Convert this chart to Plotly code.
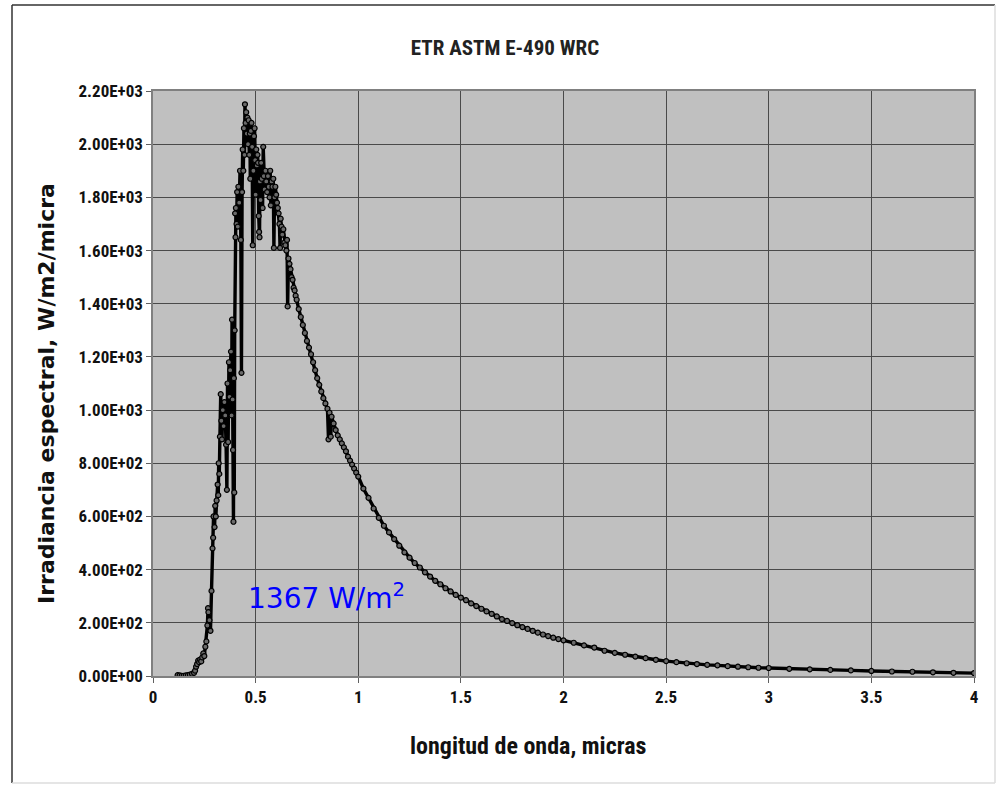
import plotly.graph_objects as go

# Wavelength (micras) and spectral irradiance (W/m2/micra)
wavelength = [
    0.120, 0.130, 0.140, 0.150, 0.160, 0.170, 0.180, 0.190, 0.200, 0.205,
    0.210, 0.215, 0.220, 0.225, 0.230, 0.235, 0.240, 0.245, 0.250, 0.255,
    0.260, 0.265, 0.268, 0.270, 0.275, 0.280, 0.285, 0.290, 0.293, 0.295,
    0.300, 0.303, 0.306, 0.310, 0.315, 0.318, 0.320, 0.323, 0.326, 0.330,
    0.333, 0.336, 0.340, 0.344, 0.348, 0.352, 0.356, 0.360, 0.363, 0.366,
    0.370, 0.373, 0.376, 0.380, 0.383, 0.385, 0.388, 0.390, 0.392, 0.394,
    0.396, 0.398, 0.400, 0.402, 0.404, 0.407, 0.410, 0.413, 0.416, 0.420,
    0.424, 0.428, 0.431, 0.434, 0.437, 0.440, 0.443, 0.446, 0.448, 0.451,
    0.454, 0.457, 0.460, 0.463, 0.466, 0.469, 0.472, 0.474, 0.477, 0.480,
    0.483, 0.486, 0.489, 0.492, 0.495, 0.498, 0.500, 0.503, 0.506, 0.509,
    0.512, 0.515, 0.517, 0.519, 0.521, 0.524, 0.527, 0.530, 0.534, 0.537,
    0.540, 0.544, 0.548, 0.552, 0.556, 0.560, 0.564, 0.568, 0.571, 0.574,
    0.578, 0.582, 0.586, 0.589, 0.592, 0.596, 0.600, 0.604, 0.608, 0.612,
    0.616, 0.619, 0.622, 0.626, 0.630, 0.635, 0.640, 0.645, 0.650, 0.653,
    0.656, 0.660, 0.665, 0.670, 0.675, 0.680, 0.685, 0.690, 0.695, 0.700,
    0.710, 0.720, 0.730, 0.740, 0.750, 0.760, 0.770, 0.780, 0.790, 0.800,
    0.810, 0.820, 0.830, 0.840, 0.850, 0.855, 0.860, 0.866, 0.870, 0.880,
    0.890, 0.900, 0.910, 0.920, 0.930, 0.940, 0.950, 0.960, 0.970, 0.980,
    0.990, 1.000, 1.025, 1.050, 1.075, 1.100, 1.125, 1.150, 1.175, 1.200,
    1.225, 1.250, 1.275, 1.300, 1.325, 1.350, 1.375, 1.400, 1.425, 1.450,
    1.475, 1.500, 1.525, 1.550, 1.575, 1.600, 1.625, 1.650, 1.675, 1.700,
    1.725, 1.750, 1.775, 1.800, 1.825, 1.850, 1.875, 1.900, 1.925, 1.950,
    1.975, 2.000, 2.050, 2.100, 2.150, 2.200, 2.250, 2.300, 2.350, 2.400,
    2.450, 2.500, 2.550, 2.600, 2.650, 2.700, 2.750, 2.800, 2.850, 2.900,
    2.950, 3.000, 3.100, 3.200, 3.300, 3.400, 3.500, 3.600, 3.700, 3.800,
    3.900, 4.000,
]

irradiance = [
    3, 2, 1, 1, 2, 3, 5, 8, 12, 20,
    35, 45, 58, 52, 62, 55, 70, 85, 75, 110,
    130, 190, 255, 240, 210, 170, 320, 480, 520, 600,
    560, 640, 600, 660, 720, 680, 800, 760, 900, 1060,
    960, 890, 1000, 940, 1030, 980, 870, 700, 1100, 880,
    1180, 1050, 1150, 1220, 980, 1340, 1040, 850, 580, 1120,
    690, 1300, 1740, 1650, 1760, 1700, 1820, 1690, 1840, 1780,
    1900, 1640, 1140, 1820, 1980, 1900, 2060, 1960, 2150, 2080,
    2120, 2040, 2100, 2000, 2090, 1960, 2040, 1870, 2050, 2080,
    1990, 1620, 1900, 2030, 2060, 1940, 1810, 1980, 1920, 1960,
    1930, 1730, 1670, 1650, 1860, 1790, 1930, 1870, 1760, 1990,
    1880, 1830, 1900, 1860, 1820, 1880, 1840, 1800, 1900, 1770,
    1860, 1840, 1870, 1610, 1800, 1840, 1810, 1780, 1760, 1740,
    1700, 1610, 1720, 1690, 1660, 1680, 1630, 1620, 1600, 1640,
    1390, 1570, 1550, 1530, 1500, 1490, 1460, 1450, 1430, 1415,
    1380, 1350, 1320, 1290, 1260, 1235, 1210, 1180, 1150, 1120,
    1095, 1070, 1045, 1025, 1005, 890, 990, 900, 975, 950,
    925, 905, 890, 875, 860, 845, 825, 810, 795, 780,
    765, 750, 705, 670, 630, 595, 565, 540, 515, 490,
    465, 445, 425, 408, 390, 374, 358, 345, 330, 318,
    305, 295, 285, 273, 263, 253, 243, 234, 224, 214,
    207, 199, 191, 184, 177, 170, 163, 156, 150, 144,
    139, 134, 125, 115, 107, 95, 87, 80, 73, 67,
    61, 56, 52, 48, 45, 42, 40, 37, 35, 33,
    31, 30, 27, 25, 23, 21, 19, 17, 16, 14,
    12, 11,
]

y_tick_vals = [0, 200, 400, 600, 800, 1000, 1200, 1400, 1600, 1800, 2000, 2200]
y_tick_text = ["0.00E+00", "2.00E+02", "4.00E+02", "6.00E+02", "8.00E+02",
               "1.00E+03", "1.20E+03", "1.40E+03", "1.60E+03", "1.80E+03",
               "2.00E+03", "2.20E+03"]
x_tick_vals = [0, 0.5, 1, 1.5, 2, 2.5, 3, 3.5, 4]
x_tick_text = ["0", "0.5", "1", "1.5", "2", "2.5", "3", "3.5", "4"]

narrow = "Liberation Sans Narrow, Arial Narrow, Roboto Condensed, Liberation Sans, Arial, sans-serif"

fig = go.Figure()
fig.add_trace(go.Scatter(
    x=wavelength, y=irradiance, mode="lines+markers",
    line=dict(color="black", width=3.4),
    marker=dict(symbol="circle", size=5, color="#6a6a6a",
                line=dict(color="black", width=1.2)),
    showlegend=False, hoverinfo="x+y",
))

fig.update_layout(
    width=998, height=786,
    margin=dict(l=153, r=24, t=91, b=110),
    paper_bgcolor="white",
    plot_bgcolor="#c0c0c0",
    title=dict(text="<b>ETR ASTM E-490 WRC</b>", x=0.506, xanchor="center",
               y=0.94, yanchor="middle",
               font=dict(family=narrow, size=21, color="#222222")),
    xaxis=dict(range=[0, 4], tickvals=x_tick_vals, ticktext=x_tick_text,
               showgrid=True, gridcolor="#4a4a4a", gridwidth=1.3,
               zeroline=False, showline=True, linecolor="#808080", linewidth=1.5,
               mirror=True, ticks="outside", ticklen=5, tickcolor="#606060",
               tickfont=dict(family=narrow, size=17, color="#111111", weight="bold")),
    yaxis=dict(range=[0, 2200], tickvals=y_tick_vals, ticktext=y_tick_text,
               showgrid=True, gridcolor="#4a4a4a", gridwidth=1.3,
               zeroline=False, showline=True, linecolor="#808080", linewidth=1.5,
               mirror=True, ticks="outside", ticklen=5, tickcolor="#606060",
               tickfont=dict(family=narrow, size=17, color="#111111", weight="bold")),
)

fig.add_annotation(text="<b>longitud de onda, micras</b>", xref="paper", yref="paper",
                   x=(528 - 153) / 821, y=-(746 - 676) / 585, showarrow=False,
                   xanchor="center", yanchor="middle",
                   font=dict(family=narrow, size=24, color="#111111"))
fig.add_annotation(text="<b>Irradiancia espectral, W/m2/micra</b>", xref="paper", yref="paper",
                   x=-(153 - 47) / 821, y=(676 - 394) / 585, showarrow=False,
                   textangle=-90, xanchor="center", yanchor="middle",
                   font=dict(family="DejaVu Sans, Verdana, sans-serif", size=22, color="#111111"))
fig.add_annotation(text="1367 W/m<sup>2</sup>", x=0.455, y=300, xref="x", yref="y",
                   showarrow=False, xanchor="left", yanchor="middle",
                   font=dict(family="DejaVu Sans, Verdana, sans-serif", size=28, color="#0000ff"))

# chart border
def px_x(p):
    return (p - 153) / 821
def px_y(p):
    return (676 - p) / 585
fig.add_shape(type="line", xref="paper", yref="paper", x0=px_x(12), x1=px_x(12),
              y0=px_y(5), y1=px_y(783), line=dict(color="#333333", width=1.5))
fig.add_shape(type="line", xref="paper", yref="paper", x0=px_x(12), x1=px_x(995),
              y0=px_y(5), y1=px_y(5), line=dict(color="#333333", width=1.5))
fig.add_shape(type="line", xref="paper", yref="paper", x0=px_x(995), x1=px_x(995),
              y0=px_y(5), y1=px_y(783), line=dict(color="#dddddd", width=1.5))
fig.add_shape(type="line", xref="paper", yref="paper", x0=px_x(12), x1=px_x(995),
              y0=px_y(783), y1=px_y(783), line=dict(color="#dddddd", width=1.5))

fig.write_html("out.html", post_script="document.body.style.margin='0';",
               config={"displayModeBar": False})
